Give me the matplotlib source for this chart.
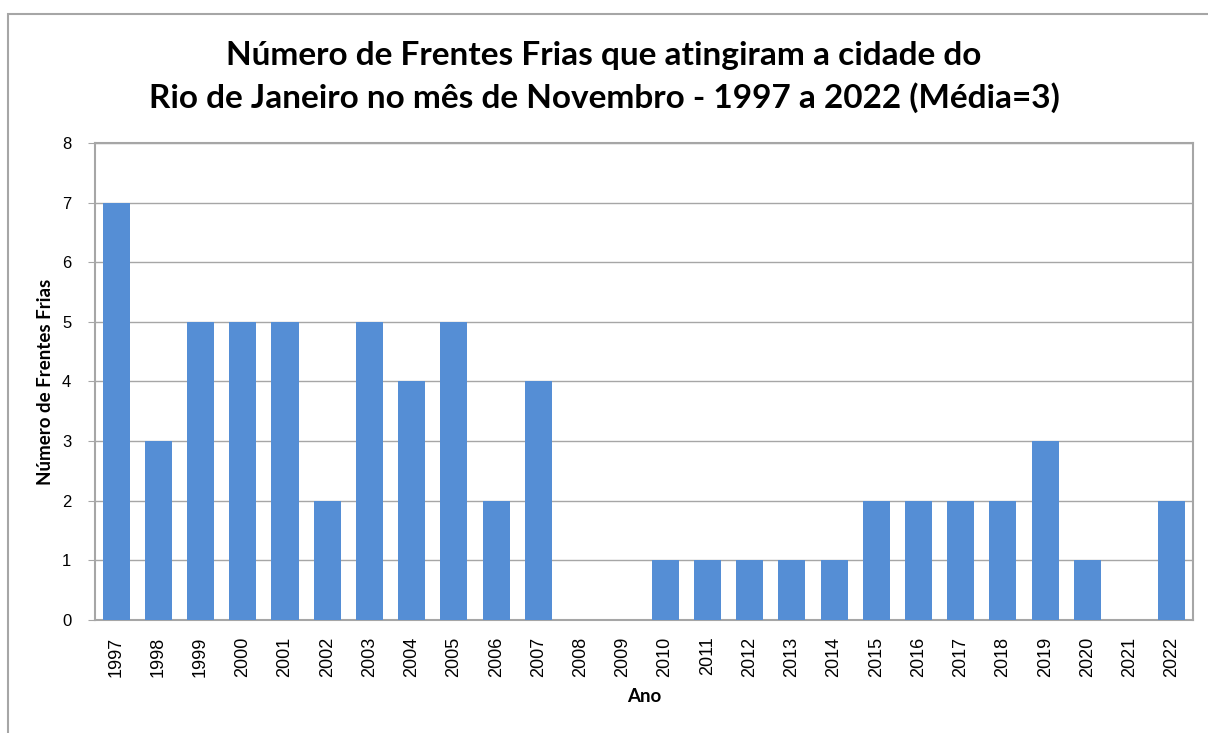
import matplotlib
matplotlib.use("Agg")
import matplotlib.pyplot as plt
from matplotlib.patches import Rectangle

# Dados
anos = [str(a) for a in range(1997, 2023)]
frentes = [7, 3, 5, 5, 5, 2, 5, 4, 5, 2, 4, 0, 0, 1, 1, 1, 1, 1, 2, 2, 2, 2, 3, 1, 0, 2]

titulo = "Número de Frentes Frias que atingiram a cidade do\nRio de Janeiro no mês de Novembro - 1997 a 2022 (Média=3)"

fig = plt.figure(figsize=(12.08, 7.33), dpi=100)
ax = fig.add_axes([0.0786, 0.1542, 0.909, 0.6507])

# Moldura do gráfico
fig.patches.append(Rectangle((8 / 1208, -0.1), 1.2, 1.1 - 14 / 733, transform=fig.transFigure,
                             fill=False, edgecolor="#a6a6a6", linewidth=1.5))

x = range(len(anos))
ax.bar(x, frentes, width=0.64, color="#558ed5", zorder=3)

ax.set_xlim(-0.5, len(anos) - 0.5)
ax.set_ylim(0, 8)
ax.set_yticks(range(9))
ax.set_xticks(list(x))
ax.set_xticklabels(anos, rotation=90, family="Liberation Sans", fontsize=13)
for lbl in ax.get_yticklabels():
    lbl.set_family("Liberation Sans")
    lbl.set_fontsize(12)

ax.grid(axis="y", color="#a6a6a6", linewidth=1, zorder=0)
for s in ax.spines.values():
    s.set_color("#a6a6a6")
    s.set_linewidth(1.5)
ax.tick_params(axis="y", length=5, color="#a6a6a6", pad=12)
ax.tick_params(axis="x", length=0, pad=12)

ax.set_xlabel("Ano", family="Lato", fontweight="bold", fontsize=13.5, labelpad=8)
ax.set_ylabel("Número de Frentes Frias", family="Lato", fontweight="bold", fontsize=13.5, labelpad=6)

fig.text(0.5, 0.895, titulo, ha="center", va="center", family="Lato", fontweight="bold",
         fontsize=24, linespacing=1.5)

fig.savefig("out.png", dpi=100)
